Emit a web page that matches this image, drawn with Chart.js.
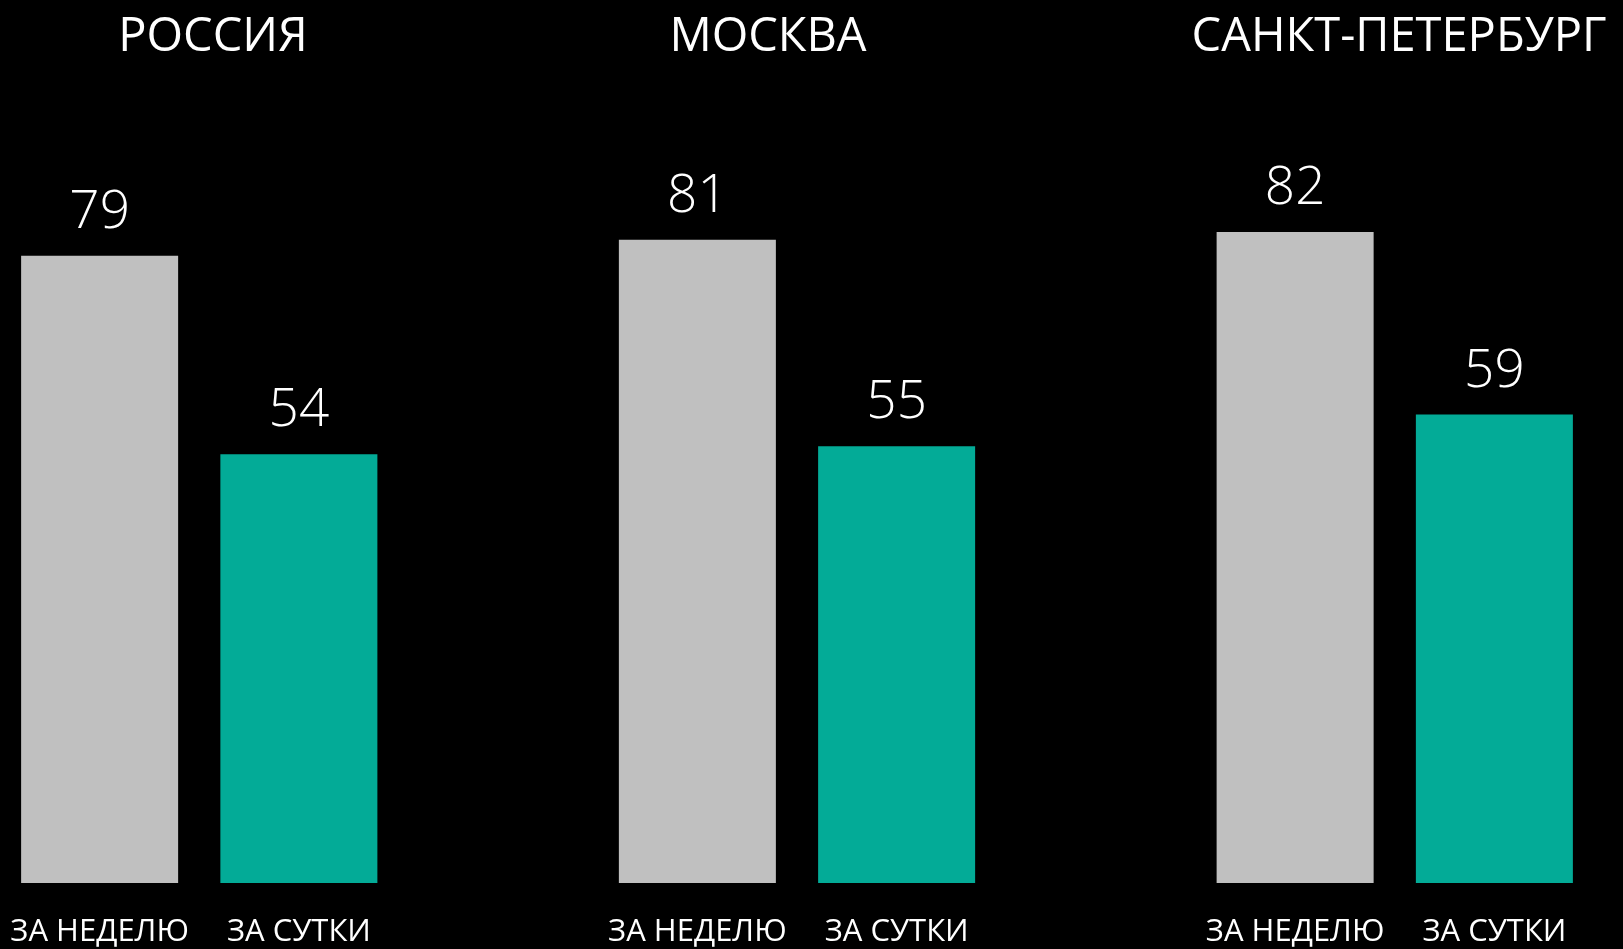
<!DOCTYPE html>
<html>
<head>
<meta charset="utf-8">
<script src="https://cdn.jsdelivr.net/npm/chart.js@4.4.0/dist/chart.umd.min.js"></script>
<style>
  html, body { margin: 0; padding: 0; background: #000; }
  #wrap { width: 1623px; height: 949px; position: relative; background: #000; }
  canvas { display: block; }
</style>
</head>
<body>
<div id="wrap"><canvas id="c" width="1623" height="949"></canvas></div>
<script>
// ---- data ----
const regions = ['РОССИЯ', 'МОСКВА', 'САНКТ-ПЕТЕРБУРГ'];
const periodLabels = ['ЗА НЕДЕЛЮ', 'ЗА СУТКИ'];
const weekValues = [79, 81, 82];
const dayValues = [54, 55, 59];

// ---- styling / layout ----
const GRAY = '#c0c0c0';
const TEAL = '#03ab97';
const TITLE_X = [213, 768, 1399];
const TITLE_BASELINE = 51;

// build category slots: week, day, spacer per region (no spacer after last)
const labels = [];
const weekData = [];
const dayData = [];
regions.forEach((r, i) => {
  labels.push(periodLabels[0]); weekData.push(weekValues[i]); dayData.push(null);
  labels.push(periodLabels[1]); weekData.push(null); dayData.push(dayValues[i]);
  if (i < regions.length - 1) { labels.push(''); weekData.push(null); dayData.push(null); }
});

const overlay = {
  id: 'overlay',
  afterDatasetsDraw(chart) {
    const ctx = chart.ctx;
    ctx.save();
    ctx.fillStyle = '#fff';
    ctx.textAlign = 'center';
    ctx.textBaseline = 'alphabetic';
    ctx.font = '300 53px "Open Sans"';
    chart.data.datasets.forEach((ds, di) => {
      const meta = chart.getDatasetMeta(di);
      meta.data.forEach((bar, idx) => {
        const v = ds.data[idx];
        if (v === null || v === undefined) return;
        ctx.fillText(String(v), bar.x, bar.y - 28);
      });
    });
    ctx.font = '500 47px "Open Sans"';
    regions.forEach((r, i) => {
      ctx.fillText(r, TITLE_X[i], TITLE_BASELINE);
    });
    ctx.restore();
  }
};

new Chart(document.getElementById('c'), {
  type: 'bar',
  data: {
    labels: labels,
    datasets: [
      { label: periodLabels[0], data: weekData, backgroundColor: GRAY },
      { label: periodLabels[1], data: dayData, backgroundColor: TEAL }
    ]
  },
  options: {
    responsive: false,
    animation: false,
    devicePixelRatio: 1,
    layout: { padding: { top: 89, left: 0, right: 29, bottom: 0 } },
    datasets: { bar: { categoryPercentage: 1, barPercentage: 0.788 } },
    plugins: { legend: { display: false }, tooltip: { enabled: false }, title: { display: false } },
    scales: {
      x: {
        stacked: true,
        grid: { display: false },
        border: { display: false },
        ticks: {
          color: '#fff',
          font: { family: 'Open Sans', size: 31, weight: '500' },
          padding: 23,
          maxRotation: 0,
          autoSkip: false
        },
        afterFit(scale) { scale.height = 66; scale.paddingLeft = 0; scale.paddingRight = 0; }
      },
      y: {
        stacked: true,
        display: false,
        min: 0,
        max: 100
      }
    }
  },
  plugins: [overlay]
});
</script>
</body>
</html>
